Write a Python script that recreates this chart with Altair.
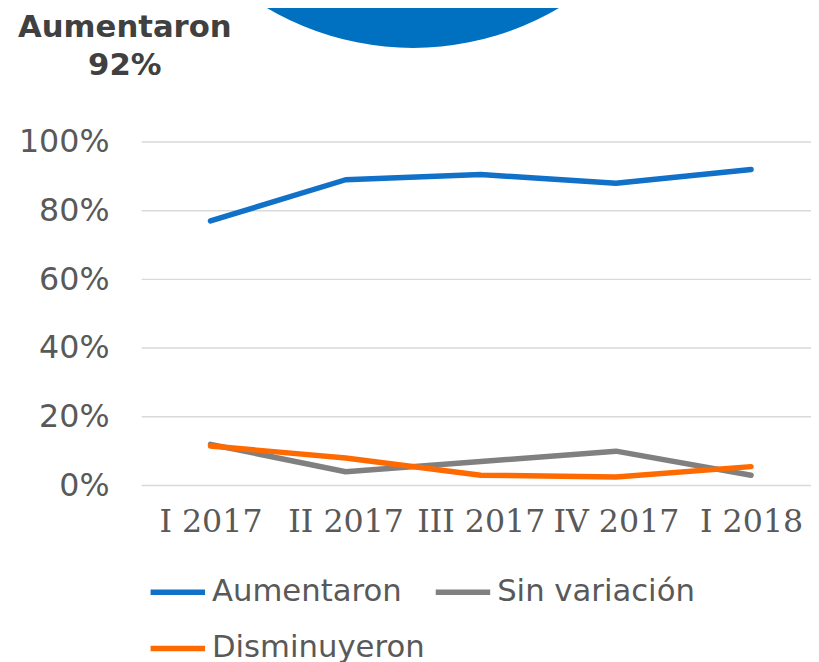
import altair as alt
import pandas as pd

periods = ["I 2017", "II 2017", "III 2017", "IV 2017", "I 2018"]
aumentaron = [77, 89, 90.5, 88, 92]
sin_variacion = [12, 4, 7, 10, 3]
disminuyeron = [11.5, 8, 3, 2.5, 5.5]
series = ["Aumentaron", "Sin variación", "Disminuyeron"]
colors = ["#1170C8", "#808080", "#FF6A00"]
y_ticks = [0, 20, 40, 60, 80, 100]
headline = ["Aumentaron", "92%"]

rows = []
for name, vals in zip(series, [aumentaron, sin_variacion, disminuyeron]):
    for p, v in zip(periods, vals):
        rows.append({"periodo": p, "serie": name, "valor": v})
df = pd.DataFrame(rows)

W, H = 676, 347

y_scale = alt.Scale(domain=[0, 100])

grid = alt.Chart(pd.DataFrame({"v": y_ticks})).mark_rule(
    color="#d9d9d9", strokeWidth=1.5
).encode(
    y=alt.Y("v:Q", scale=y_scale,
            axis=alt.Axis(title=None, values=y_ticks, labelExpr="datum.value + '%'",
                          ticks=False, domain=False, grid=False,
                          labelFont="DejaVu Sans", labelFontSize=32,
                          labelColor="#595959", labelPadding=33)),
    x=alt.value(0), x2=alt.value(W),
)

circle = alt.Chart(pd.DataFrame({"a": [0]})).mark_point(
    shape="circle", filled=True, opacity=1, color="#0070C0", size=336400, strokeWidth=0
).encode(x=alt.value(274), y=alt.value(-385))

lines = alt.Chart(df).mark_line(
    strokeWidth=5.5, strokeCap="round", strokeJoin="round"
).encode(
    x=alt.X("periodo:N", sort=periods,
            scale=alt.Scale(type="point", range=[69.5, 615.5], padding=0),
            axis=alt.Axis(title=None, labelAngle=0, ticks=False, domain=False, grid=False,
                          labelFont="DejaVu Serif", labelFontSize=32,
                          labelColor="#595959", labelPadding=21)),
    y=alt.Y("valor:Q", scale=y_scale),
    color=alt.Color("serie:N", sort=series,
                    scale=alt.Scale(domain=series, range=colors),
                    legend=alt.Legend(title=None, orient="none", legendX=6, legendY=424,
                                      direction="horizontal",
                                      columns=2, symbolType="stroke", symbolSize=3025,
                                      symbolStrokeWidth=5.5, labelFont="DejaVu Sans",
                                      labelFontSize=31, labelColor="#595959",
                                      labelLimit=400, columnPadding=0, rowPadding=11,
                                      labelOffset=4)),
)

t1 = alt.Chart(pd.DataFrame({"t": [headline[0]]})).mark_text(
    font="DejaVu Sans", fontSize=31, fontWeight="bold", color="#404040",
    align="center", baseline="alphabetic"
).encode(text="t:N", x=alt.value(-17), y=alt.value(-106))
t2 = alt.Chart(pd.DataFrame({"t": [headline[1]]})).mark_text(
    font="DejaVu Sans", fontSize=31, fontWeight="bold", color="#404040",
    align="center", baseline="alphabetic"
).encode(text="t:N", x=alt.value(-17), y=alt.value(-68))

chart = alt.layer(circle, grid, lines, t1, t2).properties(
    width=W, height=H,
    background="white",
    autosize=alt.AutoSizeParams(type="none"),
    padding={"left": 135, "top": 132, "right": 0, "bottom": 180},
).configure_view(stroke=None)

chart.save("out.html", embed_options={"renderer": "svg", "actions": False})
